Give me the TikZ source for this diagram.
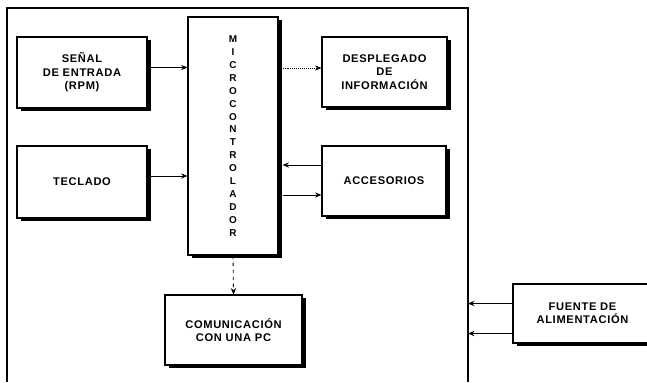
\documentclass[tikz,border=0pt]{standalone}
\usepackage{fontspec}
\setmainfont{Liberation Sans}
\newfontfamily\cajafont[LetterSpace=6]{Liberation Sans}
\usetikzlibrary{positioning, arrows.meta, shadows}

\begin{document}
\begin{tikzpicture}[
  x=0.03cm, y=-0.03cm,
  caja/.style={draw=black, fill=white, line width=0.9pt, align=center,
               font=\cajafont\bfseries\fontsize{9.5}{11.4}\selectfont, inner sep=2pt,
               drop shadow={shadow xshift=0.12cm, shadow yshift=-0.1cm, fill=black, opacity=1}},
  flecha/.style={line width=0.7pt, -{Stealth[length=5.5pt, width=4.5pt]}},
  marco/.style={line width=0.9pt},
]
  \useasboundingbox (0,0) rectangle (647,382);

  % marco del sistema (abierto abajo)
  \coordinate (mNO) at (7,8);
  \coordinate (mNE) at (468,8);
  \draw[marco] (7,382) -- (mNO) -- (mNE) -- (468,382);

  % bloques
  \node[caja, minimum width=3.9cm, minimum height=2.13cm] (senal) at (82,72.5) {SEÑAL\\DE ENTRADA\\(RPM)};
  \node[caja, minimum width=3.9cm, minimum height=2.16cm] (teclado) at (82,182) {TECLADO};
  \node[caja, minimum width=2.7cm, minimum height=7.14cm,
        font=\bfseries\fontsize{8.5}{11}\selectfont] (micro) at (233,136)
        {M\\I\\C\\R\\O\\C\\O\\N\\T\\R\\O\\L\\A\\D\\O\\R};
  \node[caja, minimum width=3.75cm, minimum height=2.1cm] (despl) at (384.5,72) {DESPLEGADO\\DE\\INFORMACIÓN};
  \node[caja, minimum width=3.72cm, minimum height=2.1cm] (acces) at (384,181) {ACCESORIOS};
  \node[caja, minimum width=4.11cm, minimum height=2.1cm] (comun) at (233.5,330) {COMUNICACIÓN\\CON UNA PC};
  \node[caja, minimum width=4.17cm, minimum height=1.77cm] (fuente) at (582.5,313.5) {FUENTE DE\\ALIMENTACIÓN};

  % puntos de enlace
  \coordinate (s1) at ([yshift=0.15cm]senal.east);
  \coordinate (t1) at ([yshift=0.18cm]teclado.east);
  \coordinate (d1) at ([yshift=0.12cm]despl.west);
  \coordinate (a1) at ([yshift=0.48cm]acces.west);
  \coordinate (a2) at ([yshift=-0.42cm]acces.west);
  \coordinate (f1) at ([yshift=0.3cm]fuente.west);
  \coordinate (f2) at ([yshift=-0.6cm]fuente.west);

  % conexiones
  \draw[flecha] (s1) -- (s1 -| micro.west);
  \draw[flecha] (t1) -- (t1 -| micro.west);
  \draw[flecha, densely dotted] (d1 -| micro.east) -- (d1);
  \draw[flecha] (a1) -- ([xshift=0.12cm]a1 -| micro.east);
  \draw[flecha] ([xshift=0.12cm]a2 -| micro.east) -- (a2);
  \draw[flecha, dashed] (micro.south) -- (comun.north);
  \draw[flecha] (f1) -- (f1 -| mNE);
  \draw[flecha] (f2) -- (f2 -| mNE);
\end{tikzpicture}
\end{document}
